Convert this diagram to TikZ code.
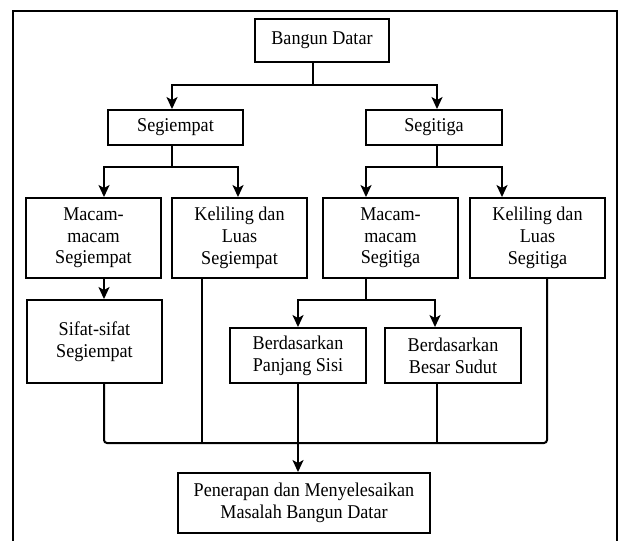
\documentclass[tikz,border=0pt]{standalone}
\usepackage{fontspec}
\setmainfont{Liberation Serif}[FakeStretch=0.93]
\usetikzlibrary{arrows.meta}
\begin{document}
\begin{tikzpicture}[x=1pt,y=-1pt,
  box/.style={draw, line width=1.9pt, align=center, inner sep=0pt, font=\fontsize{19.5}{21.7}\selectfont},
  conn/.style={line width=2pt},
  arr/.style={conn, -{Stealth[length=12pt,width=11pt,inset=3pt]}}]
\useasboundingbox (0,0) rectangle (620,540);
\draw[line width=2.8pt] (13,545) -- (13,11) -- (617,11) -- (617,545);

\node[box, minimum width=134pt, minimum height=43pt] (bd) at (322,40.5) {Bangun Datar};
\node[box, minimum width=135pt, minimum height=35pt] (s4) at (175.5,127.5) {Segiempat};
\node[box, minimum width=136pt, minimum height=35pt] (s3) at (434,127.5) {Segitiga};
\node[box, minimum width=135pt, minimum height=80pt] (m4) at (93.5,238) {Macam-\\macam\\Segiempat};
\node[box, minimum width=135pt, minimum height=80pt] (k4) at (239.5,238) {Keliling dan\\Luas\\Segiempat};
\node[box, minimum width=135pt, minimum height=80pt] (m3) at (390.5,238) {Macam-\\macam\\Segitiga};
\node[box, minimum width=135pt, minimum height=80pt] (k3) at (537.5,238) {Keliling dan\\Luas\\Segitiga};
\node[box, minimum width=135pt, minimum height=83pt] (sf) at (94.5,341.5) {Sifat-sifat\\Segiempat};
\node[box, minimum width=136pt, minimum height=55pt] (ps) at (298,355.5) {Berdasarkan\\Panjang Sisi};
\node[box, minimum width=136pt, minimum height=55pt] (bs) at (453,355.5) {Berdasarkan\\Besar Sudut};
\node[box, minimum width=252pt, minimum height=60pt] (pm) at (304,503) {Penerapan dan Menyelesaikan\\Masalah Bangun Datar};

% level 1
\coordinate (j1) at (313,85);
\draw[conn] (bd.south -| j1) -- (j1);
\draw[arr] (j1) -| ([xshift=-3.5pt]s4.north);
\draw[arr] (j1) -| ([xshift=3pt]s3.north);

% level 2
\coordinate (j2) at (172,167);
\draw[conn] (s4.south -| j2) -- (j2);
\draw[arr] (j2) -| ([xshift=10.5pt]m4.north);
\draw[arr] (j2) -| ([xshift=-1.5pt]k4.north);
\coordinate (j3) at (437,167);
\draw[conn] (s3.south -| j3) -- (j3);
\draw[arr] (j3) -| ([xshift=-24.5pt]m3.north);
\draw[arr] (j3) -| ([xshift=-35.5pt]k3.north);

% level 3
\draw[arr] ([xshift=10.5pt]m4.south) -- ([xshift=10.5pt]m4.south |- sf.north);
\coordinate (j4) at (366,300);
\draw[conn] (m3.south -| j4) -- (j4);
\draw[arr] (j4) -| (ps.north);
\draw[arr] (j4) -| ([xshift=-18pt]bs.north);

% bottom
\coordinate (j5) at (298,443);
\draw[conn, rounded corners=3pt] ([xshift=9.5pt]sf.south) |- (j5) -| ([xshift=9.5pt]k3.south);
\draw[conn] ([xshift=-37.5pt]k4.south) -- ([xshift=-37.5pt]k4.south |- j5);
\draw[conn] ([xshift=-16pt]bs.south) -- ([xshift=-16pt]bs.south |- j5);
\draw[arr] (ps.south) -- (pm.north -| ps.south);
\end{tikzpicture}
\end{document}
